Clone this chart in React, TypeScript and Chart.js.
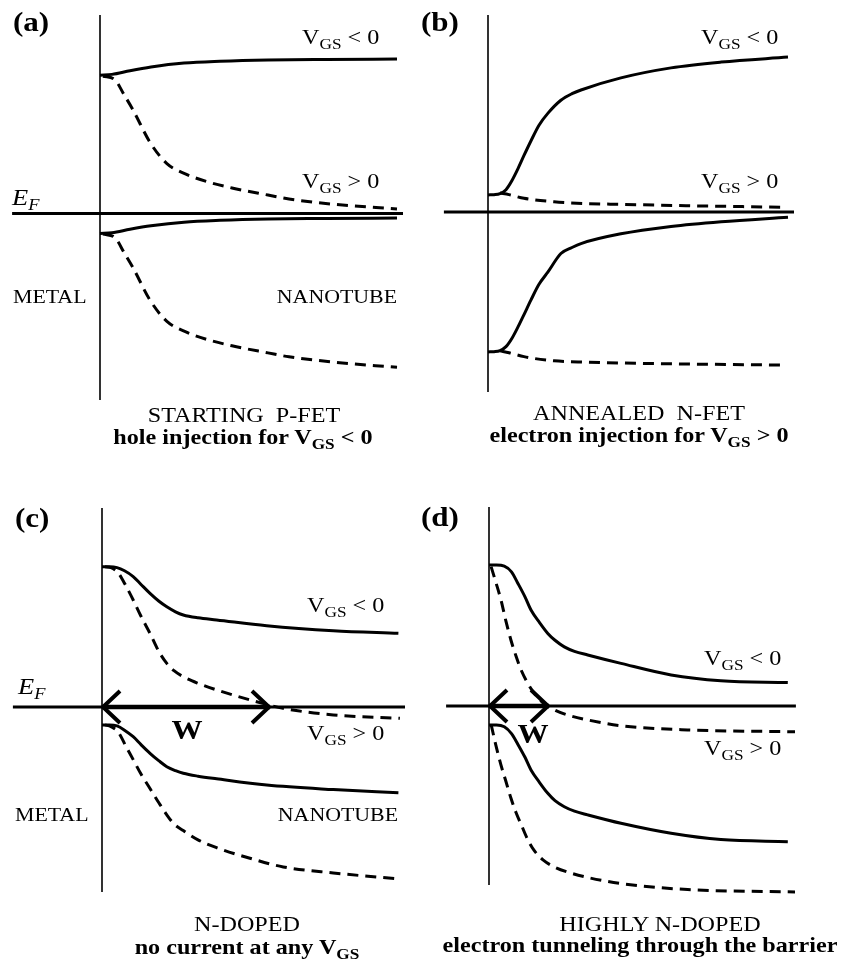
import React, { useEffect, useRef } from "react";
import { Chart, registerables } from "chart.js";

Chart.register(...registerables);

// ---------- scale (layout) ----------
const PX_PER_NM = 3; // horizontal: distance from contact (nm)
const PX_PER_EV = 263; // vertical: energy relative to E_F (eV)

// ---------- DATA (distance in nm, energy in eV, E_F = 0) ----------
const EF_LEVEL = 0;

// (a) starting p-FET
const A_EF_X = [-29.3, 101];
const A_IFACE_E = [0.755, -0.709];
const A_X_SOLID = [0, 4, 10, 17, 28, 40, 56, 75, 99];
const A_EC_NEG = [0.526, 0.529, 0.543, 0.557, 0.572, 0.579, 0.584, 0.586, 0.587];
const A_EV_NEG = [-0.076, -0.073, -0.06, -0.047, -0.033, -0.026, -0.021, -0.019, -0.017];
const A_X_DASH = [1, 5, 8, 11, 16.7, 22.3, 29, 36, 44, 56, 63, 78, 99];
const A_EC_POS = [0.522, 0.508, 0.452, 0.394, 0.27, 0.19, 0.148, 0.12, 0.097, 0.07, 0.055, 0.035, 0.017];
const A_EV_POS = [-0.078, -0.092, -0.148, -0.206, -0.33, -0.41, -0.452, -0.48, -0.503, -0.53, -0.545, -0.565, -0.585];

// (b) annealed n-FET
const B_EF_X = [-14.7, 102];
const B_IFACE_E = [0.749, -0.684];
const B_X_SOLID = [0, 2, 4, 6, 8, 10, 12, 14.3, 17, 20, 24.3, 28, 31, 44.3, 61, 77.7, 100];
const B_EC_NEG = [0.065, 0.066, 0.07, 0.085, 0.12, 0.165, 0.215, 0.27, 0.33, 0.376, 0.425, 0.45, 0.464, 0.51, 0.548, 0.57, 0.589];
const B_EV_NEG = [-0.532, -0.531, -0.527, -0.512, -0.48, -0.437, -0.39, -0.335, -0.275, -0.228, -0.158, -0.135, -0.12, -0.083, -0.055, -0.037, -0.02];
const B_X_DASH = [4, 7, 12, 22, 33, 44, 66, 99];
const B_EC_POS = [0.072, 0.066, 0.052, 0.039, 0.032, 0.029, 0.024, 0.018];
const B_EV_POS = [-0.528, -0.535, -0.55, -0.566, -0.571, -0.574, -0.578, -0.582];

// (c) n-doped
const C_EF_X = [-29.7, 101];
const C_IFACE_E = [0.757, -0.703];
const C_X_SOLID = [0, 2.5, 5, 7.5, 10.4, 13, 16, 19, 21.6, 24.5, 27.1, 32, 38.2, 54.9, 77.1, 98.8];
const C_EC_NEG = [0.533, 0.533, 0.53, 0.518, 0.496, 0.466, 0.432, 0.402, 0.381, 0.362, 0.35, 0.339, 0.331, 0.309, 0.29, 0.28];
const C_EV_NEG = [-0.068, -0.068, -0.072, -0.088, -0.113, -0.143, -0.176, -0.205, -0.227, -0.242, -0.252, -0.263, -0.273, -0.297, -0.314, -0.326];
const C_X_DASH = [1, 3, 5.4, 8, 10.4, 13, 16, 19, 21.6, 24, 27.1, 32, 38.2, 49.3, 60.4, 77.1, 99.3];
const C_EC_POS = [0.533, 0.53, 0.51, 0.46, 0.407, 0.345, 0.28, 0.21, 0.166, 0.138, 0.115, 0.09, 0.065, 0.027, -0.005, -0.03, -0.043];
const C_EV_POS = [-0.068, -0.075, -0.095, -0.15, -0.2, -0.255, -0.31, -0.365, -0.41, -0.445, -0.47, -0.505, -0.535, -0.575, -0.608, -0.631, -0.654];
const C_W = 56; // depletion width (nm)

// (d) highly n-doped
const D_EF_X = [-14.3, 102.3];
const D_IFACE_E = [0.757, -0.681];
const D_X_SOLID = [0, 2.5, 5.1, 7.5, 9.6, 12, 14, 16.8, 19.6, 22, 25.1, 28.5, 32.9, 44, 60.7, 77.3, 99.6];
const D_EC_NEG = [0.536, 0.536, 0.532, 0.51, 0.467, 0.415, 0.365, 0.318, 0.276, 0.25, 0.225, 0.208, 0.194, 0.162, 0.118, 0.096, 0.089];
const D_EV_NEG = [-0.072, -0.072, -0.079, -0.105, -0.145, -0.195, -0.243, -0.29, -0.332, -0.36, -0.383, -0.4, -0.414, -0.446, -0.484, -0.508, -0.516];
const D_X_DASH = [0.7, 2.3, 4, 5.6, 7.3, 9, 10.7, 13, 15.1, 18, 21.8, 27, 32.9, 44, 66.2, 102];
const D_EC_POS = [0.53, 0.47, 0.403, 0.325, 0.251, 0.19, 0.137, 0.085, 0.048, 0.012, -0.015, -0.037, -0.053, -0.075, -0.091, -0.098];
const D_EV_POS = [-0.07, -0.15, -0.225, -0.285, -0.35, -0.405, -0.45, -0.51, -0.55, -0.585, -0.612, -0.634, -0.652, -0.675, -0.698, -0.707];
const D_W = 20; // depletion width (nm)

// ---------- panel layout ----------
type PanelCfg = {
  left: number; top: number; width: number; height: number; x0: number; y0: number;
  efX: number[]; iface: number[];
  xs: number[]; ecNeg: number[]; evNeg: number[];
  xd: number[]; ecPos: number[]; evPos: number[];
  w?: number;
};

const PANELS: PanelCfg[] = [
  { left: 0, top: 0, width: 421, height: 460, x0: 100, y0: 213.5, efX: A_EF_X, iface: A_IFACE_E, xs: A_X_SOLID, ecNeg: A_EC_NEG, evNeg: A_EV_NEG, xd: A_X_DASH, ecPos: A_EC_POS, evPos: A_EV_POS },
  { left: 421, top: 0, width: 421, height: 460, x0: 67, y0: 212, efX: B_EF_X, iface: B_IFACE_E, xs: B_X_SOLID, ecNeg: B_EC_NEG, evNeg: B_EV_NEG, xd: B_X_DASH, ecPos: B_EC_POS, evPos: B_EV_POS },
  { left: 0, top: 460, width: 421, height: 510, x0: 102, y0: 247, efX: C_EF_X, iface: C_IFACE_E, xs: C_X_SOLID, ecNeg: C_EC_NEG, evNeg: C_EV_NEG, xd: C_X_DASH, ecPos: C_EC_POS, evPos: C_EV_POS, w: C_W },
  { left: 421, top: 460, width: 421, height: 510, x0: 68, y0: 246, efX: D_EF_X, iface: D_IFACE_E, xs: D_X_SOLID, ecNeg: D_EC_NEG, evNeg: D_EV_NEG, xd: D_X_DASH, ecPos: D_EC_POS, evPos: D_EV_POS, w: D_W },
];

const pts = (xs: number[], ys: number[]) => xs.map((x, i) => ({ x, y: ys[i] }));

const INK = "#000";
const DASH = [11, 7];

function Panel({ cfg }: { cfg: PanelCfg }) {
  const ref = useRef<HTMLCanvasElement | null>(null);
  useEffect(() => {
    if (!ref.current) return;
    const curve = (data: any, dashed: boolean) => ({
      data,
      borderColor: INK,
      borderWidth: 3,
      borderDash: dashed ? DASH : [],
      pointRadius: 0,
      cubicInterpolationMode: "monotone" as const,
      fill: false,
    });
    const straight = (data: any, width: number) => ({
      data,
      borderColor: INK,
      borderWidth: width,
      pointRadius: 0,
      tension: 0,
      fill: false,
    });
    const wArrow = {
      id: "wArrow",
      afterDatasetsDraw(chart: any) {
        if (cfg.w === undefined) return;
        const { ctx } = chart;
        const sx = chart.scales.x;
        const sy = chart.scales.y;
        const xa = sx.getPixelForValue(0);
        const xb = sx.getPixelForValue(cfg.w);
        const yy = sy.getPixelForValue(EF_LEVEL);
        ctx.save();
        ctx.strokeStyle = INK;
        ctx.lineWidth = 4.5;
        ctx.lineJoin = "miter";
        ctx.beginPath();
        ctx.moveTo(xa, yy);
        ctx.lineTo(xb, yy);
        ctx.stroke();
        const L = 18, H = 16;
        ctx.lineWidth = 4;
        ctx.beginPath();
        ctx.moveTo(xa + L, yy - H);
        ctx.lineTo(xa + 1, yy);
        ctx.lineTo(xa + L, yy + H);
        ctx.stroke();
        ctx.beginPath();
        ctx.moveTo(xb - L, yy - H);
        ctx.lineTo(xb - 1, yy);
        ctx.lineTo(xb - L, yy + H);
        ctx.stroke();
        ctx.restore();
      },
    };
    const chart = new Chart(ref.current, {
      type: "line",
      data: {
        datasets: [
          straight(pts(cfg.efX, [EF_LEVEL, EF_LEVEL]), 3),
          straight(pts([0, 0], cfg.iface), 1.6),
          curve(pts(cfg.xs, cfg.ecNeg), false),
          curve(pts(cfg.xs, cfg.evNeg), false),
          curve(pts(cfg.xd, cfg.ecPos), true),
          curve(pts(cfg.xd, cfg.evPos), true),
        ] as any,
      },
      options: {
        animation: false,
        responsive: false,
        maintainAspectRatio: false,
        events: [],
        layout: { padding: 0 },
        plugins: { legend: { display: false }, tooltip: { enabled: false }, title: { display: false } },
        scales: {
          x: { type: "linear", display: false, min: -cfg.x0 / PX_PER_NM, max: (cfg.width - cfg.x0) / PX_PER_NM },
          y: { type: "linear", display: false, min: -(cfg.height - cfg.y0) / PX_PER_EV, max: cfg.y0 / PX_PER_EV },
        },
      },
      plugins: [wArrow],
    });
    return () => chart.destroy();
  }, [cfg]);
  return (
    <canvas
      ref={ref}
      width={cfg.width}
      height={cfg.height}
      style={{ position: "absolute", left: cfg.left, top: cfg.top, width: cfg.width, height: cfg.height }}
    />
  );
}

// ---------- text ----------
const FONT = '"Liberation Serif", "Times New Roman", Times, serif';
const SX = 1.15;

function Label({ x, y, size, bold, italic, align = "left", children }: any) {
  const transform =
    align === "center" ? `translateX(-50%) scaleX(${SX})` : align === "right" ? `translateX(-100%) scaleX(${SX})` : `scaleX(${SX})`;
  const transformOrigin = align === "center" ? "center center" : align === "right" ? "right center" : "left center";
  return (
    <div
      style={{
        position: "absolute",
        left: x,
        top: y - 0.8375 * size,
        fontSize: size,
        lineHeight: `${size}px`,
        fontWeight: bold ? 700 : 400,
        fontStyle: italic ? "italic" : "normal",
        whiteSpace: "pre",
        transform,
        transformOrigin,
        fontFamily: FONT,
        color: INK,
      }}
    >
      {children}
    </div>
  );
}

function Sub({ size = 15, shift = 5, children }: any) {
  return <span style={{ fontSize: size, position: "relative", top: shift }}>{children}</span>;
}

function Vgs({ x, y, sign }: { x: number; y: number; sign: string }) {
  return (
    <Label x={x} y={y} size={21}>
      V<Sub>GS</Sub> {sign} 0
    </Label>
  );
}

function EF({ x, y }: { x: number; y: number }) {
  return (
    <Label x={x} y={y} size={23} italic>
      E<Sub size={16} shift={5}>F</Sub>
    </Label>
  );
}

export default function App() {
  return (
    <div style={{ position: "absolute", left: 0, top: 0, width: 842, height: 970, background: "#fff", overflow: "hidden" }}>
      {PANELS.map((p, i) => (
        <Panel key={i} cfg={p} />
      ))}

      {/* panel letters */}
      <Label x={13} y={32} size={27} bold>(a)</Label>
      <Label x={421} y={32} size={27} bold>(b)</Label>
      <Label x={15} y={528} size={27} bold>(c)</Label>
      <Label x={421} y={527} size={27} bold>(d)</Label>

      {/* V_GS labels */}
      <Vgs x={302} y={45} sign="<" />
      <Vgs x={302} y={189} sign=">" />
      <Vgs x={701} y={45} sign="<" />
      <Vgs x={701} y={189} sign=">" />
      <Vgs x={307} y={613} sign="<" />
      <Vgs x={307} y={741} sign=">" />
      <Vgs x={704} y={666} sign="<" />
      <Vgs x={704} y={756} sign=">" />

      {/* Fermi level */}
      <EF x={12} y={205} />
      <EF x={18} y={694} />

      {/* region names */}
      <Label x={13} y={303} size={19}>METAL</Label>
      <Label x={397} y={303} size={19} align="right">NANOTUBE</Label>
      <Label x={15} y={821} size={19}>METAL</Label>
      <Label x={398} y={821} size={19} align="right">NANOTUBE</Label>

      {/* depletion width */}
      <Label x={187} y={740} size={27} bold align="center">W</Label>
      <Label x={533} y={744} size={27} bold align="center">W</Label>

      {/* captions */}
      <Label x={244} y={423} size={21} align="center">STARTING  P-FET</Label>
      <Label x={243} y={445} size={21} bold align="center">
        hole injection for V<Sub>GS</Sub> &lt; 0
      </Label>
      <Label x={639} y={421} size={21} align="center">ANNEALED  N-FET</Label>
      <Label x={639} y={443} size={21} bold align="center">
        electron injection for V<Sub>GS</Sub> &gt; 0
      </Label>
      <Label x={247} y={932} size={21} align="center">N-DOPED</Label>
      <Label x={247} y={955} size={21} bold align="center">
        no current at any V<Sub>GS</Sub>
      </Label>
      <Label x={660} y={932} size={21} align="center">HIGHLY N-DOPED</Label>
      <Label x={640} y={953} size={21} bold align="center">electron tunneling through the barrier</Label>
    </div>
  );
}
